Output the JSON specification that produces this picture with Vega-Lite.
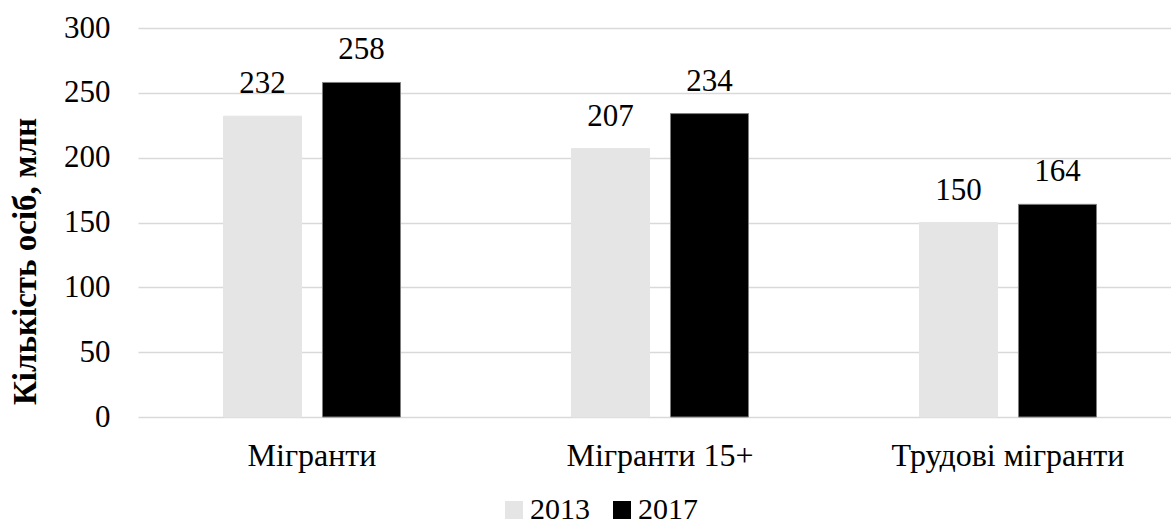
{
  "$schema": "https://vega.github.io/schema/vega-lite/v6.json",
  "autosize": {"type": "none"},
  "width": 1033,
  "height": 389,
  "padding": {"left": 138, "top": 28, "right": 0, "bottom": 109},
  "background": "white",
  "config": {
    "font": "Liberation Serif",
    "view": {"stroke": null}
  },
  "data": {
    "values": [
      {"category": "Мігранти", "year": "2013", "value": 232},
      {"category": "Мігранти", "year": "2017", "value": 258},
      {"category": "Мігранти 15+", "year": "2013", "value": 207},
      {"category": "Мігранти 15+", "year": "2017", "value": 234},
      {"category": "Трудові мігранти", "year": "2013", "value": 150},
      {"category": "Трудові мігранти", "year": "2017", "value": 164}
    ]
  },
  "encoding": {
    "x": {
      "field": "category",
      "type": "nominal",
      "sort": null,
      "scale": {"paddingInner": 0, "paddingOuter": 0, "range": [0, 1044]},
      "axis": {
        "title": null,
        "domain": false,
        "ticks": false,
        "labelAngle": 0,
        "labelFont": "Liberation Serif",
        "labelFontSize": 32,
        "labelColor": "#000000",
        "labelPadding": 23,
        "labelBaseline": "top",
        "labelLimit": 400
      }
    },
    "xOffset": {
      "field": "year",
      "type": "nominal",
      "scale": {"paddingInner": 0.212, "paddingOuter": 0.864}
    },
    "y": {
      "field": "value",
      "type": "quantitative",
      "scale": {"domain": [0, 300], "nice": false},
      "axis": {
        "values": [0, 50, 100, 150, 200, 250, 300],
        "title": "Кількість осіб, млн",
        "titleFont": "Liberation Serif",
        "titleFontWeight": "bold",
        "titleFontSize": 33,
        "titleColor": "#000000",
        "titleY": 233,
        "titleX": -113,
        "titleAngle": -90,
        "titleBaseline": "middle",
        "domain": false,
        "ticks": false,
        "labelFont": "Liberation Serif",
        "labelFontSize": 31,
        "labelColor": "#000000",
        "labelPadding": 28,
        "grid": true,
        "gridColor": "#d9d9d9",
        "gridWidth": 1.5
      }
    }
  },
  "layer": [
    {
      "mark": {"type": "bar", "strokeWidth": 1},
      "encoding": {
        "stroke": {
          "field": "year",
          "type": "nominal",
          "scale": {"domain": ["2013", "2017"], "range": ["#e5e5e5", "#7f7f7f"]},
          "legend": null
        },
        "color": {
          "field": "year",
          "type": "nominal",
          "scale": {"domain": ["2013", "2017"], "range": ["#e5e5e5", "#000000"]},
          "legend": {
            "title": null,
            "orient": "none",
            "direction": "horizontal",
            "legendX": 361,
            "legendY": 467,
            "symbolType": "square",
            "symbolSize": 324,
            "symbolStrokeWidth": 0,
            "labelFont": "Liberation Serif",
            "labelFontSize": 30,
            "labelColor": "#000000",
            "labelOffset": 1,
            "columnPadding": 17
          }
        }
      }
    },
    {
      "mark": {"type": "text", "baseline": "bottom", "dy": -16, "fontSize": 31, "font": "Liberation Serif", "color": "#000000"},
      "encoding": {
        "text": {"field": "value", "type": "quantitative"}
      }
    }
  ]
}
